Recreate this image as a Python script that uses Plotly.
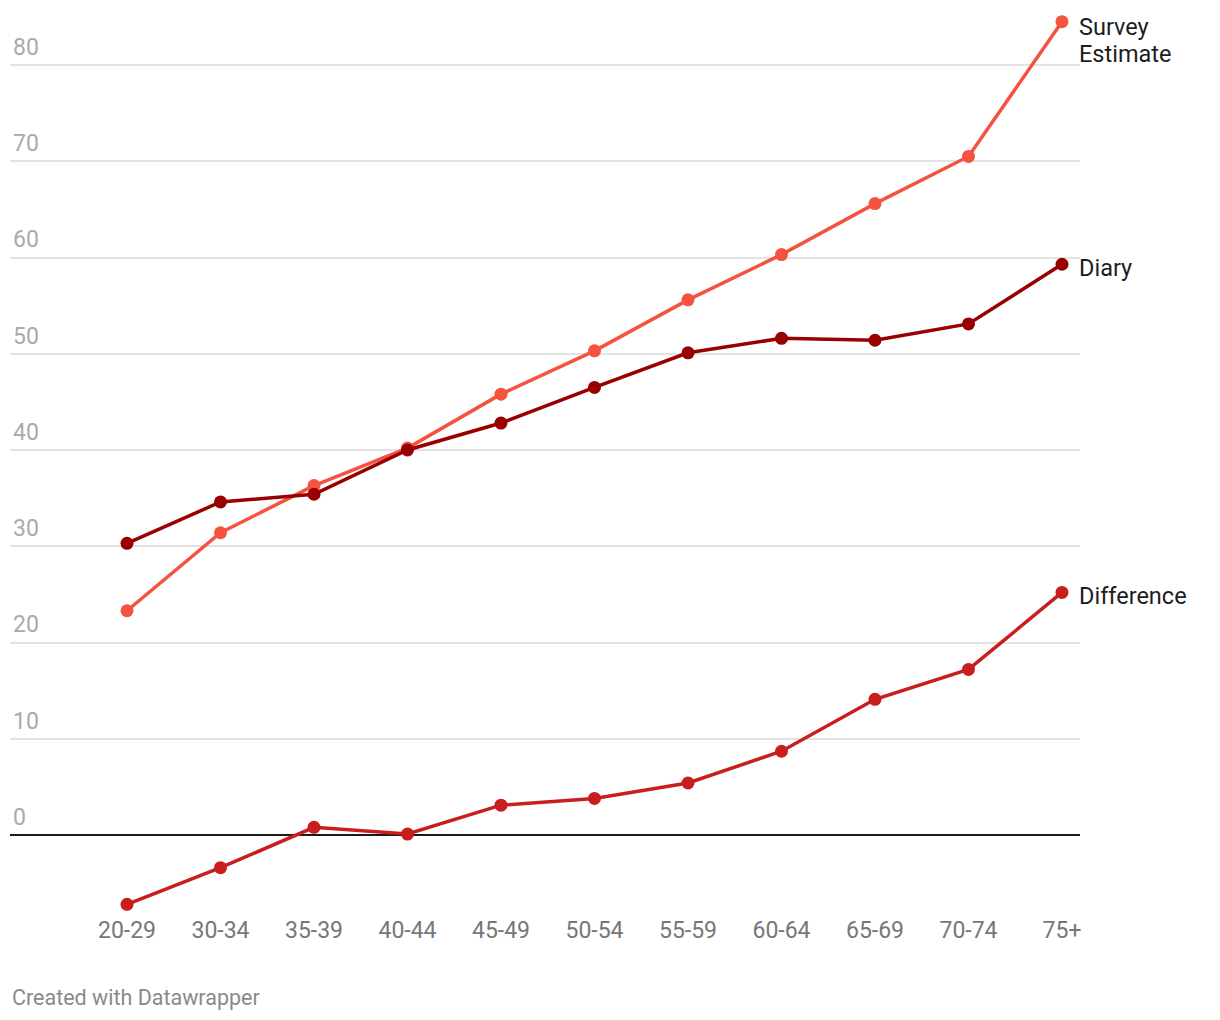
import plotly.graph_objects as go

categories = ["20-29", "30-34", "35-39", "40-44", "45-49", "50-54", "55-59", "60-64", "65-69", "70-74", "75+"]
survey = [23.3, 31.4, 36.3, 40.2, 45.8, 50.3, 55.6, 60.3, 65.6, 70.5, 84.5]
diary = [30.3, 34.6, 35.4, 40.0, 42.8, 46.5, 50.1, 51.6, 51.4, 53.1, 59.3]
difference = [-7.2, -3.4, 0.8, 0.1, 3.1, 3.8, 5.4, 8.7, 14.1, 17.2, 25.2]
series_names = ["Survey Estimate", "Diary", "Difference"]
series_label_lines = [["Survey", "Estimate"], ["Diary"], ["Difference"]]
colors = ["#f55240", "#990000", "#c81e1e"]
y_ticks = [0, 10, 20, 30, 40, 50, 60, 70, 80]

OFF = 8  # page body margin
W, H = 1212, 1012
# target page-pixel geometry
left_px, right_px, top_px, bottom_px = 10, 1080, 10, 910
ml = left_px - OFF
mt = top_px - OFF
mr = W - (right_px - OFF)
mb = H - (bottom_px - OFF)
px_per_unit_y = (835 - 65) / 80.0
y_top = 80 + (65 - top_px) / px_per_unit_y
y_bot = -(bottom_px - 835) / px_per_unit_y
px_per_cat = (1062 - 127) / 10.0
x_left = -(127 - left_px) / px_per_cat
x_right = (right_px - 127) / px_per_cat

fig = go.Figure()
xs = list(range(len(categories)))
for name, vals, col in zip(series_names, [survey, diary, difference], colors):
    fig.add_trace(go.Scatter(
        x=xs, y=vals, name=name, mode="lines+markers",
        line=dict(color=col, width=3.5),
        marker=dict(color=col, size=13),
        cliponaxis=False, showlegend=False,
    ))

annotations = []
for lines, vals in zip(series_label_lines, [survey, diary, difference]):
    first_shift = -5 if len(lines) > 1 else -4
    for i, txt in enumerate(lines):
        annotations.append(dict(
            x=xs[-1], y=vals[-1], xref="x", yref="y", text=txt, showarrow=False,
            xanchor="left", yanchor="middle",
            xshift=15, yshift=first_shift - 27 * i,
            align="left", font=dict(family="Roboto", size=23.5, color="#1d1d1d"),
        ))
plot_h = H - mt - mb
annotations.append(dict(
    x=0, y=-((997 - OFF) - (bottom_px - OFF)) / plot_h, xref="paper", yref="paper",
    text="Created with Datawrapper",
    showarrow=False, xanchor="left", yanchor="middle",
    font=dict(family="Roboto", size=21.5, color="#8a8a8a"),
))

fig.update_layout(
    width=W, height=H,
    margin=dict(l=ml, r=mr, t=mt, b=mb),
    paper_bgcolor="white", plot_bgcolor="white",
    font=dict(family="Roboto"),
    annotations=annotations,
    xaxis=dict(
        range=[x_left, x_right], tickmode="array", tickvals=xs, ticktext=categories,
        showgrid=False, zeroline=False, showline=False, ticks="",
        ticklabelstandoff=4,
        tickfont=dict(family="Roboto", size=23, color="#777777"),
        fixedrange=True,
    ),
    yaxis=dict(
        range=[y_bot, y_top], tickmode="array", tickvals=y_ticks,
        ticklabelposition="inside top", showgrid=True, gridcolor="#e3e3e3", gridwidth=1.5,
        ticklabelshift=-2,
        zeroline=True, zerolinecolor="#1a1a1a", zerolinewidth=2,
        tickfont=dict(family="Roboto", size=23, color="#aaaaaa"),
        showline=False, ticks="", fixedrange=True,
    ),
)

fig.write_html("out.html")
